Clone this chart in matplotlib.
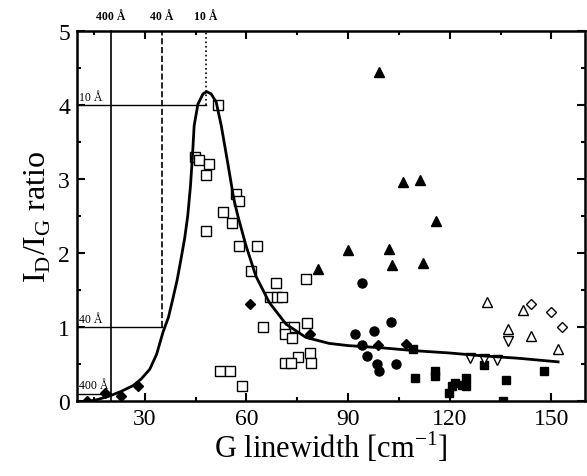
import matplotlib
matplotlib.use('Agg')
import matplotlib.pyplot as plt
from matplotlib.ticker import MultipleLocator

plt.rcParams['font.family'] = ['Liberation Serif', 'DejaVu Serif']
plt.rcParams['mathtext.fontset'] = 'custom'
plt.rcParams['mathtext.rm'] = 'Liberation Serif'

# open squares
sq_open_x = [51.6, 44.9, 46.0, 49.0, 48.0, 53.1, 55.7, 48.0, 57.0, 57.9, 57.9, 63.0,
             61.3, 68.8, 77.7, 67.0, 69.0, 70.5, 64.8, 71.4, 74.1, 71.4, 73.6, 77.8,
             78.9, 75.2, 71.4, 73.2, 79.1, 52.3, 55.2, 58.7]
sq_open_y = [4.0, 3.30, 3.26, 3.20, 3.05, 2.55, 2.40, 2.30, 2.80, 2.70, 2.10, 2.10,
             1.76, 1.60, 1.65, 1.40, 1.40, 1.40, 1.00, 1.00, 1.00, 0.90, 0.85, 1.05,
             0.65, 0.60, 0.51, 0.51, 0.51, 0.40, 0.40, 0.20]

# filled diamonds
dia_x = [13.1, 18.2, 23.1, 28.0, 61.1, 78.9, 98.9, 107.1]
dia_y = [0.0, 0.11, 0.07, 0.21, 1.31, 0.91, 0.76, 0.77]

# filled circles
circ_x = [94.2, 92.2, 97.7, 102.8, 94.2, 95.7, 98.5, 99.1, 104.2]
circ_y = [1.60, 0.90, 0.95, 1.07, 0.76, 0.61, 0.50, 0.40, 0.50]

# filled up triangles
tri_x = [99.1, 106.2, 111.1, 116.1, 90.1, 102.1, 81.1, 103.0, 112.1]
tri_y = [4.45, 2.96, 2.99, 2.43, 2.04, 2.05, 1.79, 1.84, 1.86]

# filled squares
sq_x = [109.9, 115.6, 115.6, 109.1, 119.9, 120.7, 121.7, 123.6, 124.9, 124.9, 130.0,
        136.7, 147.7, 135.7]
sq_y = [0.31, 0.34, 0.41, 0.71, 0.11, 0.21, 0.25, 0.22, 0.31, 0.21, 0.49,
        0.29, 0.40, 0.0]

# open down triangles
tdn_x = [125.9, 130.0, 133.9, 137.3]
tdn_y = [0.58, 0.57, 0.55, 0.81]

# open up triangles
tup_x = [131.0, 137.3, 141.5, 144.0, 152.1]
tup_y = [1.34, 0.97, 1.23, 0.88, 0.71]

# open diamonds
odia_x = [144.0, 150.0, 153.0]
odia_y = [1.31, 1.21, 1.00]

# model curve
curve_x = [13.8, 16, 19.7, 23, 26.6, 29, 31.5, 33.5, 35.4, 37, 38.3, 39.6, 40.8,
           41.8, 42.7, 43.5, 44.1, 44.6, 45.7, 47.2, 48.3, 49.6, 51.1, 52.6, 54.5,
           56.3, 57.5, 59.9, 62.8, 66.8, 71.7, 77.6, 84.4, 90, 100, 110, 120, 130,
           140, 152]
curve_y = [0.0, 0.02, 0.07, 0.13, 0.21, 0.30, 0.43, 0.63, 0.93, 1.13, 1.38, 1.64,
           1.94, 2.2, 2.5, 2.9, 3.31, 3.72, 4.01, 4.15, 4.18, 4.15, 4.04, 3.72,
           3.22, 2.73, 2.5, 2.1, 1.69, 1.33, 1.04, 0.86, 0.78, 0.75, 0.72, 0.68,
           0.65, 0.61, 0.58, 0.53]

# crystallite size guides: (G width, I_D/I_G, label, linestyle)
guide_w = [20, 35, 48]
guide_r = [0.1, 1.0, 4.0]
guide_lbl = ['400 Å', '40 Å', '10 Å']
guide_ls = ['-', '--', ':']

fig = plt.figure(figsize=(5.87, 4.77), dpi=100)
ax = fig.add_axes([0.131, 0.157, 0.866, 0.776])

ms = 6.5
ax.plot(sq_open_x, sq_open_y, 's', mfc='white', mec='black', mew=1.0, ms=ms, ls='none')
ax.plot(dia_x, dia_y, 'D', color='black', ms=5.5, ls='none')
ax.plot(circ_x, circ_y, 'o', color='black', ms=ms, ls='none')
ax.plot(tri_x, tri_y, '^', color='black', ms=ms + 0.5, ls='none')
ax.plot(sq_x, sq_y, 's', color='black', ms=5.5, ls='none')
ax.plot(tdn_x, tdn_y, 'v', mfc='white', mec='black', mew=1.0, ms=ms + 0.5, ls='none')
ax.plot(tup_x, tup_y, '^', mfc='white', mec='black', mew=1.0, ms=ms + 0.5, ls='none')
ax.plot(odia_x, odia_y, 'D', mfc='white', mec='black', mew=1.0, ms=5.5, ls='none')

ax.plot(curve_x, curve_y, '-', color='black', lw=2.0)

for w, r, lbl, ls in zip(guide_w, guide_r, guide_lbl, guide_ls):
    ax.plot([w, w], [r, 5], ls=ls, color='black', lw=1.2, clip_on=False)
    ax.plot([10, w], [r, r], '-', color='black', lw=1.0)
    ax.text(w, 5.12, lbl, ha='center', va='bottom', fontsize=8.5, fontweight='bold')
    ax.text(10.5, r + 0.03, lbl, ha='left', va='bottom', fontsize=8.5)
ax.plot([20, 20], [0, 0.1], '-', color='black', lw=1.2)

ax.set_xlim(10, 160)
ax.set_ylim(0, 5)
ax.xaxis.set_major_locator(MultipleLocator(30))
ax.xaxis.set_minor_locator(MultipleLocator(15))
ax.yaxis.set_major_locator(MultipleLocator(1))
ax.yaxis.set_minor_locator(MultipleLocator(0.5))
ax.tick_params(which='both', direction='in', top=True, right=True, width=1.5, labelsize=17)
ax.tick_params(which='major', length=6, pad=5)
ax.tick_params(which='minor', length=3)
for sp in ax.spines.values():
    sp.set_linewidth(1.8)

ax.set_xlabel('G linewidth [cm$^{\\mathrm{-1}}$]', fontsize=22, labelpad=0)
ax.set_ylabel('I$_{\\mathrm{D}}$/I$_{\\mathrm{G}}$ ratio', fontsize=23, labelpad=4)

fig.savefig('out.png', dpi=100)
